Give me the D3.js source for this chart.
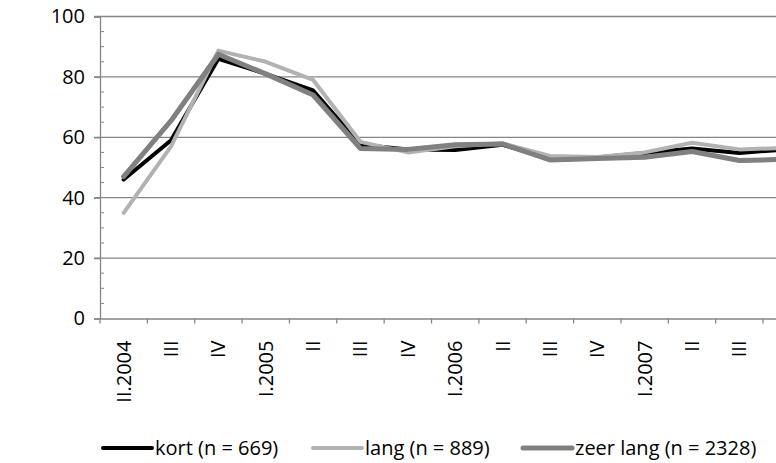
<!DOCTYPE html>
<html><head><meta charset="utf-8">
<script src="https://cdn.jsdelivr.net/npm/d3@7"></script>
<style>body{margin:0;background:#fff}svg{display:block}text{font-family:"Open Sans",sans-serif;fill:#000}</style>
</head><body><svg id="c" width="776" height="463"></svg>
<script>
const categories = ["II.2004","III","IV","I.2005","II","III","IV","I.2006","II","III","IV","I.2007","II","III","IV"];
const kort     = [46, 59, 86, 81, 75.5, 57.5, 56, 55.8, 57.5, 53, 53.3, 54.8, 56.3, 54.8, 56];
const lang     = [35, 57, 88.7, 85, 79, 58.5, 55, 57, 58, 53.8, 53.5, 55, 58.2, 56, 56.5];
const zeerLang = [47, 65.5, 87.5, 81, 74, 56.3, 56, 57.5, 57.8, 52.5, 53, 53.4, 55.3, 52.3, 52.7];
const yTicks = [0, 20, 40, 60, 80, 100];
const seriesNames = ["kort (n = 669)", "lang (n = 889)", "zeer lang (n = 2328)"];

const W = 776;
const series = [
  {name: seriesNames[0], values: kort, color: "#000000", w: 4},
  {name: seriesNames[1], values: lang, color: "#b2b2b2", w: 4},
  {name: seriesNames[2], values: zeerLang, color: "#808080", w: 5}
];
const svg = d3.select("#c");
const idx = categories.map((_, i) => i);
const x = d3.scaleBand().domain(idx).range([100, 810.4]);
const y = d3.scaleLinear().domain([0, 100]).range([318.5, 16.5]);
const axisColor = "#868686";
const fs = "20px";

// gridlines
svg.append("g").selectAll("line").data(yTicks.filter(t => t > 0)).join("line")
  .attr("x1", 94).attr("x2", 810).attr("y1", d => y(d)).attr("y2", d => y(d))
  .attr("stroke", axisColor).attr("stroke-width", 1.3);
// minor ticks
const minor = d3.range(5, 100, 5).filter(v => v % 20 !== 0);
svg.append("g").selectAll("line").data(minor).join("line")
  .attr("x1", 100).attr("x2", 104).attr("y1", d => y(d)).attr("y2", d => y(d))
  .attr("stroke", axisColor).attr("stroke-width", 1);
// y axis
const yAxis = svg.append("g").attr("transform", "translate(100,0)")
  .call(d3.axisLeft(y).tickValues(yTicks).tickSize(6).tickPadding(9));
yAxis.select(".domain").attr("stroke", axisColor).attr("stroke-width", 1.3);
yAxis.selectAll(".tick line").attr("stroke", axisColor).attr("stroke-width", 1.3);
yAxis.selectAll("text").style("font-size", fs).attr("fill", "#000");

// x axis
const xAxis = svg.append("g").attr("transform", `translate(0,${y(0)})`)
  .call(d3.axisBottom(x).tickSize(0).tickFormat(i => categories[i]));
xAxis.select(".domain").attr("stroke", axisColor).attr("stroke-width", 1.3);
xAxis.selectAll(".tick").filter(i => x(i) + x.bandwidth() / 2 > W).remove();
xAxis.selectAll("text").style("font-size", fs).attr("fill", "#000")
  .attr("transform", "rotate(-90)").attr("text-anchor", "end")
  .attr("x", -22).attr("y", 0).attr("dy", "0.35em");
const bounds = idx.map(i => x(i)).concat([x.range()[1]]);
svg.append("g").selectAll("line").data(bounds).join("line")
  .attr("x1", d => d).attr("x2", d => d).attr("y1", y(0)).attr("y2", y(0) + 5)
  .attr("stroke", axisColor).attr("stroke-width", 1.3);

// lines
const line = d3.line().x((d, i) => x(i) + x.bandwidth() / 2).y(d => y(d));
svg.append("g").selectAll("path").data(series).join("path")
  .attr("d", d => line(d.values)).attr("fill", "none")
  .attr("stroke", d => d.color).attr("stroke-width", d => d.w)
  .attr("stroke-linejoin", "round").attr("stroke-linecap", "round");

// legend
const legendX = [103, 313, 523];
const lg = svg.append("g").selectAll("g").data(series).join("g")
  .attr("transform", (d, i) => `translate(${legendX[i]},448)`);
lg.append("line").attr("x1", 0).attr("x2", 49).attr("stroke", d => d.color).attr("stroke-width", d => d.w).attr("stroke-linecap", "round");
lg.append("text").attr("x", 52).attr("dy", "0.35em").style("font-size", fs).text(d => d.name);
</script></body></html>
